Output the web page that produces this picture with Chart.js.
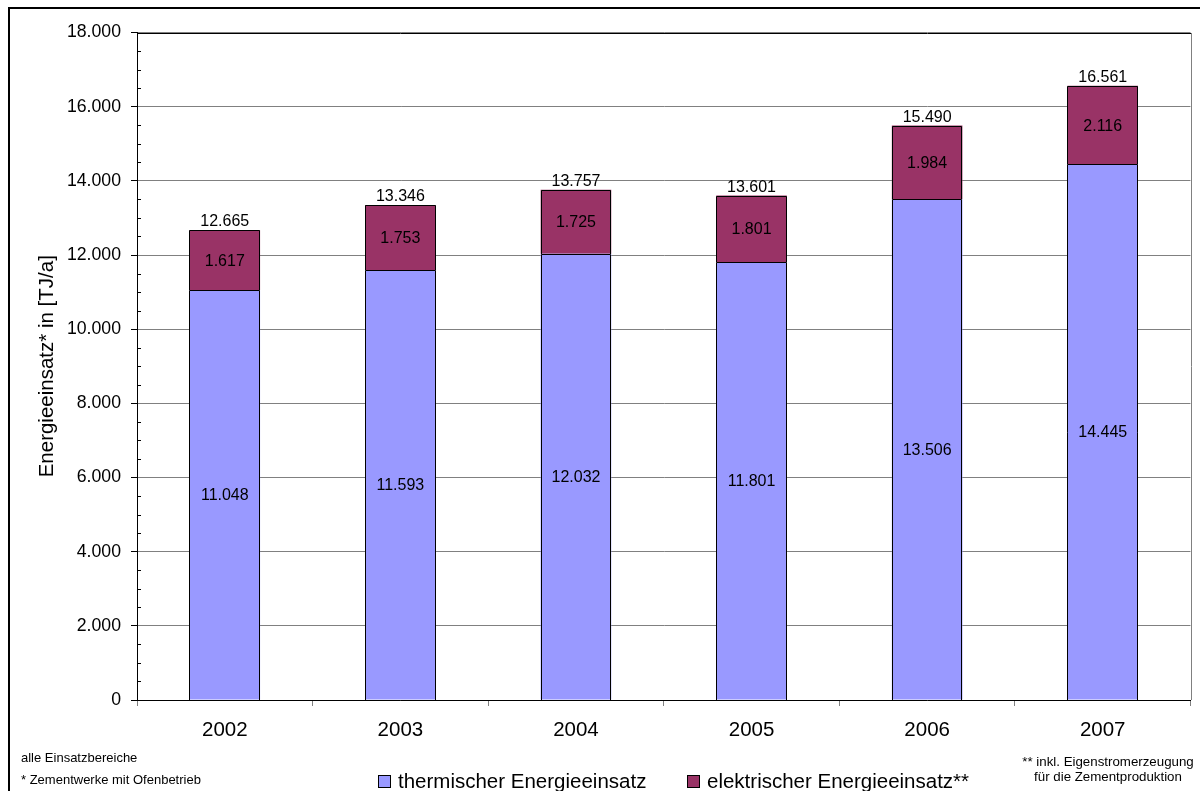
<!DOCTYPE html>
<html><head><meta charset="utf-8">
<script src="https://cdn.jsdelivr.net/npm/chart.js@4.4.0/dist/chart.umd.min.js"></script>
<style>html,body{margin:0;padding:0;background:#fff;overflow:hidden}#wrap{width:1200px;height:791px;position:relative}canvas{display:block}</style>
</head><body><div id="wrap"><canvas id="c" width="1200" height="791"></canvas></div>
<script>
// ---- data ----
const years = ['2002', '2003', '2004', '2005', '2006', '2007'];
const thermal = [11048, 11593, 12032, 11801, 13506, 14445];
const electric = [1617, 1753, 1725, 1801, 1984, 2116];
const totals = [12665, 13346, 13757, 13601, 15490, 16561];
const yMin = 0, yMax = 18000, yStep = 2000, yMinorStep = 500;
const seriesNames = ['thermischer Energieeinsatz', 'elektrischer Energieeinsatz**'];
const axisTitle = 'Energieeinsatz* in [TJ/a]';
const notesLeft = ['alle Einsatzbereiche', '* Zementwerke mit Ofenbetrieb'];
const notesRight = ['** inkl. Eigenstromerzeugung', 'für die Zementproduktion'];

// ---- styles ----
const FONT = 'Arial, "Liberation Sans", Helvetica, sans-serif';
const colThermal = '#9999FF';
const colElectric = '#993366';
const fmt = v => String(v).replace(/\B(?=(\d{3})+(?!\d))/g, '.');

const decor = {
  id: 'decor',
  afterDatasetsDraw(chart) {
    const ctx = chart.ctx;
    ctx.save();
    ctx.strokeStyle = '#000';
    ctx.lineWidth = 1;
    [0, 1].forEach(d => {
      chart.getDatasetMeta(d).data.forEach(bar => {
        const p = bar.getProps(['x', 'y', 'base', 'width'], true);
        const l = Math.round(p.x - p.width / 2) + 0.5;
        const r = Math.round(p.x + p.width / 2) - 0.5;
        const t = Math.round(p.y) + 0.5;
        const b = Math.round(p.base);
        ctx.beginPath();
        ctx.moveTo(l, b);
        ctx.lineTo(l, t);
        ctx.lineTo(r, t);
        ctx.lineTo(r, b);
        ctx.stroke();
      });
    });
    ctx.restore();
  },
  afterDraw(chart) {
    const ctx = chart.ctx;
    const ca = chart.chartArea;
    const ys = chart.scales.y;
    ctx.save();
    // plot area top + right border
    ctx.lineWidth = 1;
    ctx.strokeStyle = '#000';
    ctx.beginPath();
    ctx.moveTo(Math.round(ca.left), Math.round(ca.top) + 0.5);
    ctx.lineTo(Math.round(ca.right), Math.round(ca.top) + 0.5);
    ctx.stroke();
    ctx.strokeStyle = '#808080';
    ctx.beginPath();
    ctx.moveTo(Math.round(ca.right) + 0.5, Math.round(ca.top));
    ctx.lineTo(Math.round(ca.right) + 0.5, Math.round(ca.bottom));
    ctx.stroke();
    // minor ticks on y axis (inside)
    ctx.strokeStyle = '#000';
    for (let v = yMin + yMinorStep; v < yMax; v += yMinorStep) {
      if (v % yStep === 0) continue;
      const py = Math.round(ys.getPixelForValue(v)) + 0.5;
      ctx.beginPath();
      ctx.moveTo(Math.round(ca.left), py);
      ctx.lineTo(Math.round(ca.left) + 4, py);
      ctx.stroke();
    }
    // data labels
    const m0 = chart.getDatasetMeta(0), m1 = chart.getDatasetMeta(1);
    ctx.fillStyle = '#000';
    ctx.textAlign = 'center';
    ctx.font = '16px ' + FONT;
    ctx.textBaseline = 'middle';
    m0.data.forEach((bar, i) => {
      ctx.fillText(fmt(thermal[i]), bar.x, (bar.y + bar.base) / 2 + 1);
    });
    m1.data.forEach((bar, i) => {
      ctx.fillText(fmt(electric[i]), bar.x, (bar.y + bar.base) / 2 + 1);
    });
    ctx.textBaseline = 'alphabetic';
    m1.data.forEach((bar, i) => {
      ctx.fillText(fmt(totals[i]), bar.x, bar.y - 4);
    });
    // legend
    const leg = [
      {x: 378, color: colThermal, text: seriesNames[0]},
      {x: 687, color: colElectric, text: seriesNames[1]}
    ];
    ctx.font = '20.5px ' + FONT;
    ctx.textAlign = 'left';
    ctx.textBaseline = 'alphabetic';
    leg.forEach(l => {
      ctx.fillStyle = l.color;
      ctx.fillRect(l.x, 775, 13, 13);
      ctx.strokeStyle = '#000';
      ctx.lineWidth = 1;
      ctx.strokeRect(l.x + 0.5, 775.5, 12, 12);
      ctx.fillStyle = '#000';
      ctx.fillText(l.text, l.x + 20, 788);
    });
    // footnotes
    ctx.font = '13px ' + FONT;
    ctx.textBaseline = 'middle';
    ctx.textAlign = 'left';
    ctx.fillText(notesLeft[0], 21, 758);
    ctx.fillText(notesLeft[1], 21, 780);
    ctx.font = '13.3px ' + FONT;
    ctx.textAlign = 'center';
    ctx.fillText(notesRight[0], 1108, 762);
    ctx.fillText(notesRight[1], 1108, 777);
    // outer frame
    ctx.strokeStyle = '#000';
    ctx.lineWidth = 2;
    ctx.beginPath();
    ctx.moveTo(9, 800);
    ctx.lineTo(9, 8);
    ctx.lineTo(1210, 8);
    ctx.stroke();
    ctx.restore();
  }
};

new Chart(document.getElementById('c'), {
  type: 'bar',
  data: {
    labels: years,
    datasets: [
      {label: seriesNames[0], data: thermal, backgroundColor: colThermal, borderWidth: 0},
      {label: seriesNames[1], data: electric, backgroundColor: colElectric, borderWidth: 0}
    ]
  },
  options: {
    responsive: false,
    animation: false,
    devicePixelRatio: 1,
    layout: {padding: {top: 32.5, right: 9.5, left: 0, bottom: 0}},
    datasets: {bar: {categoryPercentage: 1, barPercentage: 0.402}},
    plugins: {legend: {display: false}, tooltip: {enabled: false}, title: {display: false}},
    scales: {
      x: {
        stacked: true,
        afterFit: s => { s.height = 91; },
        grid: {display: true, drawOnChartArea: false, drawTicks: true, tickLength: 6, tickColor: '#808080', offset: true},
        border: {display: true, color: '#000', width: 1},
        ticks: {color: '#000', font: {family: FONT, size: 20.5}, padding: 12, maxRotation: 0}
      },
      y: {
        stacked: true,
        min: yMin, max: yMax,
        afterFit: s => { s.width = 137; },
        grid: {color: '#808080', tickColor: '#000', tickLength: 6, drawTicks: true},
        border: {display: true, color: '#000', width: 1},
        ticks: {stepSize: yStep, color: '#000', font: {family: FONT, size: 17.7}, padding: 10, callback: v => fmt(v)},
        title: {display: true, text: axisTitle, color: '#000', font: {family: FONT, size: 20.5}, padding: {top: 35, bottom: 0}}
      }
    }
  },
  plugins: [decor]
});
</script>
</body></html>
